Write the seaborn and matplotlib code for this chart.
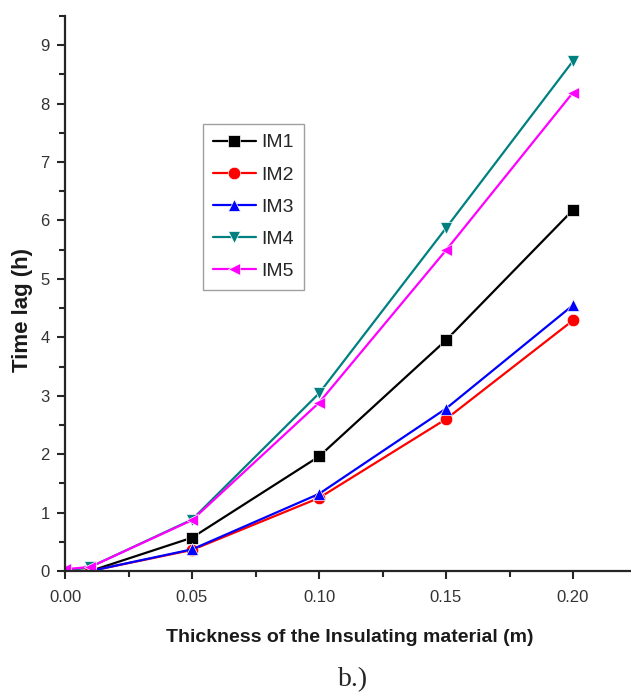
import numpy as np
import pandas as pd
import matplotlib
matplotlib.use("Agg")
import matplotlib.pyplot as plt
import seaborn as sns
from matplotlib.ticker import FixedLocator, FormatStrFormatter

# ---- data ----
thickness = [0.0, 0.01, 0.05, 0.10, 0.15, 0.20]
im1 = [0.0, 0.0, 0.57, 1.96, 3.95, 6.18]
im2 = [0.0, 0.0, 0.36, 1.25, 2.60, 4.29]
im3 = [0.0, 0.0, 0.37, 1.32, 2.78, 4.55]
im4 = [0.0, 0.07, 0.88, 3.04, 5.87, 8.73]
im5 = [0.03, 0.07, 0.87, 2.88, 5.49, 8.19]
series_names = ["IM1", "IM2", "IM3", "IM4", "IM5"]
x_ticks = [0.00, 0.05, 0.10, 0.15, 0.20]

colors = {"IM1": "black", "IM2": "red", "IM3": "blue", "IM4": "#008080", "IM5": "magenta"}
markers = {"IM1": "s", "IM2": "o", "IM3": "^", "IM4": "v", "IM5": "<"}

rows = []
for name, vals in zip(series_names, [im1, im2, im3, im4, im5]):
    for x, y in zip(thickness, vals):
        rows.append({"x": x, "y": y, "series": name})
df = pd.DataFrame(rows)

sns.set_style("ticks")
plt.rcParams["font.family"] = ["Liberation Sans", "DejaVu Sans"]

W, H = 631, 695
L, R, B, T = 65, 631, 571, 16   # axes box in pixels
fig = plt.figure(figsize=(W / 100, H / 100), dpi=100)
ax = fig.add_axes([L / W, 1 - B / H, (R - L) / W, (B - T) / H])

def ax_x(px):
    return (px - L) / (R - L)

def ax_y(py):
    return (B - py) / (B - T)

sns.lineplot(data=df, x="x", y="y", hue="series", style="series",
             palette=colors, markers=markers, dashes=False,
             linewidth=1.6, markersize=9, markeredgewidth=0.5,
             ax=ax)

ax.set_xlim(0, (R - L) / 2540)
ax.set_ylim(0, 9.5)
ax.xaxis.set_major_locator(FixedLocator(x_ticks))
ax.xaxis.set_minor_locator(FixedLocator([0.025, 0.075, 0.125, 0.175]))
ax.yaxis.set_major_locator(FixedLocator(range(10)))
ax.yaxis.set_minor_locator(FixedLocator(np.arange(0.5, 9.6, 1.0)))
ax.xaxis.set_major_formatter(FormatStrFormatter("%.2f"))

ax.tick_params(axis="both", which="major", direction="out", length=6, width=1.5,
               labelsize=12, labelcolor="#333333")
ax.tick_params(axis="x", which="major", pad=8)
ax.tick_params(axis="y", which="major", pad=5)
ax.tick_params(axis="both", which="minor", direction="out", length=4, width=1.5)
for s in ["left", "bottom"]:
    ax.spines[s].set_linewidth(1.6)
ax.spines["top"].set_visible(False)
ax.spines["right"].set_visible(False)

ax.set_xlabel("Thickness of the Insulating material (m)", fontsize=14, fontweight="bold",
              color="#1a1a1a", va="center")
ax.set_ylabel("Time lag (h)", fontsize=16, fontweight="bold", color="#1a1a1a")
ax.xaxis.set_label_coords(ax_x(350), ax_y(638))
ax.yaxis.set_label_coords(ax_x(33), ax_y(310))

leg = ax.legend(loc="upper left", bbox_to_anchor=(ax_x(203), ax_y(124)),
                fontsize=14, frameon=True, fancybox=False, edgecolor="#888888",
                labelspacing=0.75, handlelength=2.2, handletextpad=0.3,
                borderpad=0.5, borderaxespad=0, title=None)
leg.get_frame().set_linewidth(1.0)

fig.text(353 / W, 1 - 680 / H, "b.)", fontsize=20, ha="center", va="center",
         family=["Liberation Serif", "DejaVu Serif"])

fig.savefig("out.png", dpi=100)
